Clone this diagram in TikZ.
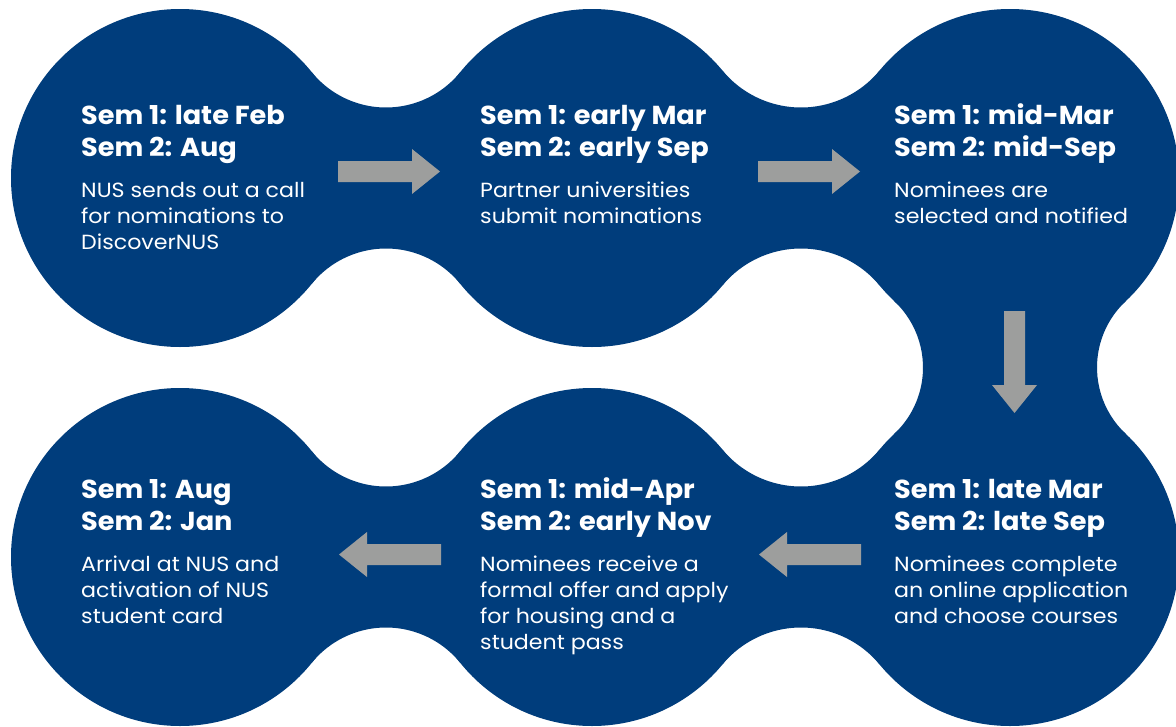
\documentclass[tikz,border=0pt]{standalone}
\usepackage{fontspec}
\setmainfont{Poppins}
\newfontfamily\headfont{Poppins}[FakeStretch=1.045]
\newfontfamily\bodyfont{Poppins}[FakeStretch=1.08]
\definecolor{nusblue}{RGB}{0,61,124}
\definecolor{arrowfill}{RGB}{157,158,157}
\newcommand\hd{\headfont\fontsize{26}{32}\selectfont\bfseries}
\newcommand\bd{\bodyfont\fontsize{20.5}{26}\selectfont\mdseries}
% horizontal neck: #1 mid x, #2 top fillet centre y, #3 bottom fillet centre y, #4 radius, #5 angle
\newcommand\neckh[5]{\fill[nusblue] ([shift={(180-#5:#4)}]#1,#2) arc[start angle=180-#5, end angle=#5, radius=#4] -- ([shift={(-#5:#4)}]#1,#3) arc[start angle=-#5, end angle=-180+#5, radius=#4] -- cycle;}
% vertical neck: #1 left fillet centre x, #2 right fillet centre x, #3 mid y, #4 radius, #5 angle
\newcommand\neckv[5]{\fill[nusblue] ([shift={(-#5:#4)}]#1,#3) arc[start angle=-#5, end angle=#5, radius=#4] -- ([shift={(180-#5:#4)}]#2,#3) arc[start angle=180-#5, end angle=180+#5, radius=#4] -- cycle;}
\tikzset{
  blob/.style={circle, fill=nusblue, minimum size=338pt, inner sep=0pt},
  txt/.style={anchor=base west, inner sep=0pt, text=white},
  barrow/.pic={\fill[arrowfill] (0,-10.5) -- (74,-10.5) -- (74,-22.5) -- (102,0) -- (74,22.5) -- (74,10.5) -- (0,10.5) -- cycle;}
}
\begin{document}
\begin{tikzpicture}[x=1pt,y=-1pt]
\useasboundingbox (0,0) rectangle (1176,726);
\fill[white] (0,0) rectangle (1176,726);
\clip (0,0) rectangle (1176,726);
% circles
\node[blob] (c1) at (180,178) {};
\node[blob] (c2) at (592,178) {};
\node[blob] (c3) at (1010,178) {};
\node[blob] (c4) at (180,557) {};
\node[blob] (c5) at (592,557) {};
\node[blob] (c6) at (1010,557) {};
% necks
\neckh{386}{11.84}{344.16}{95.66}{38.89}
\neckh{801}{5.52}{350.48}{101.98}{39.53}
\neckh{386}{390.84}{723.16}{95.66}{38.89}
\neckh{801}{384.52}{729.48}{101.98}{39.53}
\neckv{832.03}{1187.97}{367.5}{90.97}{46.8}
% arrows
\pic at (338,171.5) {barrow};
\pic at (758,171.5) {barrow};
\pic[rotate=-90] at (1014.5,311) {barrow};
\pic[rotate=180] at (861,554.5) {barrow};
\pic[rotate=180] at (441,554.5) {barrow};
% texts
\node[txt] (t1) at (81,124) {\vtop{\hd\hbox{Sem 1: late Feb}\hbox{Sem 2: Aug}\vskip15pt\bd\hbox{NUS sends out a call}\hbox{for nominations to}\hbox{DiscoverNUS}}};
\node[txt] (t2) at (480,124) {\vtop{\hd\hbox{Sem 1: early Mar}\hbox{Sem 2: early Sep}\vskip15pt\bd\hbox{Partner universities}\hbox{submit nominations}}};
\node[txt] (t3) at (894,124) {\vtop{\hd\hbox{Sem 1: mid-Mar}\hbox{Sem 2: mid-Sep}\vskip15pt\bd\hbox{Nominees are}\hbox{selected and notified}}};
\node[txt] (t6) at (894,498) {\vtop{\hd\hbox{Sem 1: late Mar}\hbox{Sem 2: late Sep}\vskip15pt\bd\hbox{Nominees complete}\hbox{an online application}\hbox{and choose courses}}};
\node[txt] (t5) at (480,498) {\vtop{\hd\hbox{Sem 1: mid-Apr}\hbox{Sem 2: early Nov}\vskip15pt\bd\hbox{Nominees receive a}\hbox{formal offer and apply}\hbox{for housing and a}\hbox{student pass}}};
\node[txt] (t4) at (81,498) {\vtop{\hd\hbox{Sem 1: Aug}\hbox{Sem 2: Jan}\vskip15pt\bd\hbox{Arrival at NUS and}\hbox{activation of NUS}\hbox{student card}}};
\end{tikzpicture}
\end{document}
